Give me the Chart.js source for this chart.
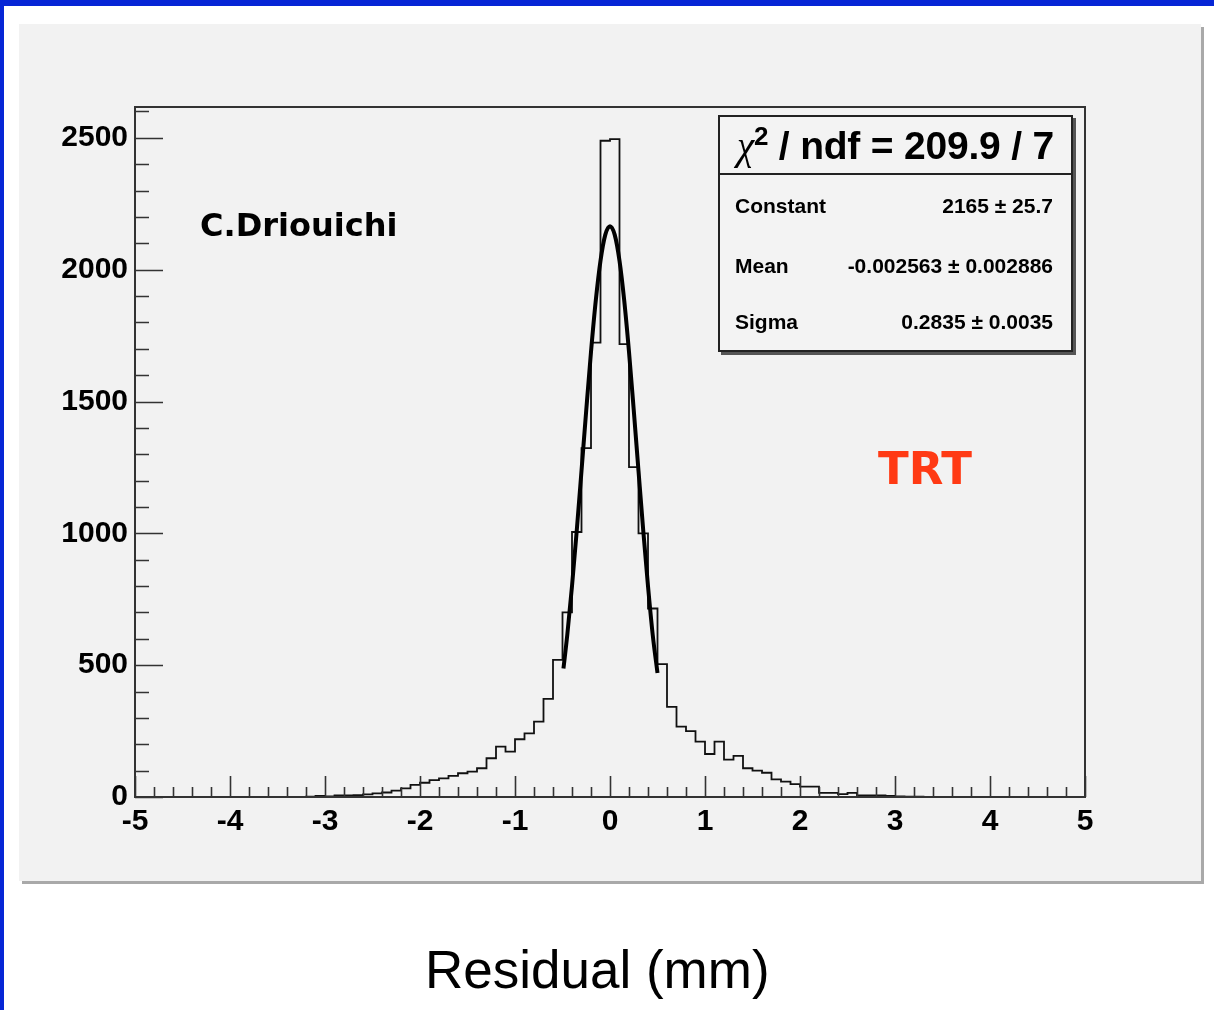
<!DOCTYPE html>
<html>
<head>
<meta charset="utf-8">
<script src="https://cdn.jsdelivr.net/npm/chart.js@4.4.1/dist/chart.umd.min.js"></script>
<style>
    html, body { margin: 0; padding: 0; background: #fff; }
    body { width: 1214px; height: 1010px; position: relative; overflow: hidden; font-family: "Liberation Sans", Arial, sans-serif; }
    .top-bar { position: absolute; left: 0; top: 0; width: 1214px; height: 6px; background: #0626d6; }
    .left-bar { position: absolute; left: 0; top: 0; width: 4px; height: 1010px; background: #0626d6; }
    .panel { position: absolute; left: 19px; top: 24px; width: 1182px; height: 857px; background: #f2f2f2; box-shadow: 3px 3px 0 #a9a9a9; }
    .chart-wrap { position: absolute; left: 0; top: 0; width: 1182px; height: 857px; }
    .author { position: absolute; left: 200px; top: 206px; line-height: 1; font: bold 32px "Comic Sans MS", "DejaVu Sans", sans-serif; color: #000; }
    .detector { position: absolute; left: 878px; top: 442px; line-height: 1; font: bold 45px "Comic Sans MS", "DejaVu Sans", sans-serif; color: #ff3a14; }
    .x-title { position: absolute; left: 425px; top: 943px; line-height: 1; font-size: 53px; color: #000; }
    .stats { position: absolute; left: 718px; top: 115px; width: 355px; height: 237px; box-sizing: border-box;
             border: 2px solid #222; background: #f3f3f3; box-shadow: 3px 3px 0 #555; }
    .stats .head { height: 56px; border-bottom: 2px solid #222; text-align: center; font-weight: bold; font-size: 39px; line-height: 58px; white-space: nowrap; letter-spacing: -0.2px; }
    .stats .head .chi { font-family: "Liberation Serif", "DejaVu Serif", serif; font-style: italic; font-weight: normal; }
    .stats .head sup { font-size: 26px; line-height: 0; }
    .stats .row { position: absolute; left: 15px; right: 18px; font-weight: bold; font-size: 21px; line-height: 1; }
    .stats .row .val { position: absolute; right: 0; top: 0; white-space: nowrap; }
</style>
</head>
<body>
<div class="top-bar"></div>
<div class="left-bar"></div>
<div class="panel">
    <div class="chart-wrap"><canvas id="residualChart"></canvas></div>
</div>
<div class="author">C.Driouichi</div>
<div class="detector">TRT</div>
<div class="stats">
    <div class="head"><span class="chi">χ</span><sup>2</sup> / ndf = 209.9 / 7</div>
    <div class="row" style="top: 78px;">Constant<span class="val">2165 ± 25.7</span></div>
    <div class="row" style="top: 138px;">Mean<span class="val">-0.002563 ± 0.002886</span></div>
    <div class="row" style="top: 194px;">Sigma<span class="val">0.2835 ± 0.0035</span></div>
</div>
<div class="x-title">Residual (mm)</div>

<script>
// Histogram binning: 100 bins from -5 to 5
const binLow = -5;
const binWidth = 0.1;

// Entries per bin (left to right)
const counts = [
    0, 0, 0, 0, 0, 0, 0, 0, 0, 0,
    0, 0, 0, 0, 0, 0, 0, 0, 1, 4,
    2, 6, 6, 7, 10, 14, 17, 24, 33, 46,
    54, 64, 71, 80, 90, 96, 109, 147, 191, 172,
    219, 241, 286, 372, 520, 700, 1005, 1323, 1723, 2489,
    2495, 1718, 1251, 1000, 715, 504, 342, 267, 250, 210,
    163, 210, 142, 156, 109, 100, 92, 67, 58, 49,
    39, 39, 16, 16, 11, 16, 6, 6, 6, 4,
    2, 1, 1, 0, 0, 0, 0, 0, 0, 0,
    0, 0, 0, 0, 0, 0, 0, 0, 0, 0
];

// Gaussian fit curve as drawn (x in mm, y in entries)
const fitX = [-0.49, -0.45, -0.40, -0.35, -0.30, -0.25, -0.20, -0.15, -0.10, -0.05, 0,
              0.05, 0.10, 0.15, 0.20, 0.25, 0.30, 0.35, 0.40, 0.45, 0.50];
const fitY = [487, 614, 800, 1010, 1237, 1467, 1688, 1882, 2034, 2132, 2165,
              2132, 2034, 1882, 1688, 1467, 1237, 1010, 800, 614, 470];

// Axis ranges and tick labels
const xTicks = [-5, -4, -3, -2, -1, 0, 1, 2, 3, 4, 5];
const yTicks = [0, 500, 1000, 1500, 2000, 2500];
const xMinorStep = 0.2;
const yMinorStep = 100;
const yMax = 2617;

// ROOT style frame with inward major/minor ticks
const rootFrame = {
    id: 'rootFrame',
    afterDatasetsDraw(chart) {
        const { ctx, chartArea: a, scales: { x, y } } = chart;
        ctx.save();
        ctx.strokeStyle = '#333';
        ctx.lineWidth = 2;
        ctx.strokeRect(a.left, a.top, a.right - a.left, a.bottom - a.top);

        ctx.lineWidth = 1.6;
        ctx.beginPath();
        const nx = Math.round((xTicks[xTicks.length - 1] - xTicks[0]) / xMinorStep);
        for (let i = 0; i <= nx; i++) {
            const v = xTicks[0] + i * xMinorStep;
            const px = Math.round(x.getPixelForValue(v)) + 0.5;
            const major = xTicks.some(t => Math.abs(t - v) < 1e-6);
            ctx.moveTo(px, a.bottom);
            ctx.lineTo(px, a.bottom - (major ? 21 : 10));
        }
        for (let v = 0; v <= yMax; v += yMinorStep) {
            const py = Math.round(y.getPixelForValue(v)) + 0.5;
            const major = yTicks.includes(v);
            ctx.moveTo(a.left, py);
            ctx.lineTo(a.left + (major ? 28 : 14), py);
        }
        ctx.stroke();
        ctx.restore();
    }
};

document.addEventListener('DOMContentLoaded', function() {
    const histPoints = counts.map((c, i) => ({ x: binLow + i * binWidth, y: c }));
    histPoints.push({ x: binLow + counts.length * binWidth, y: counts[counts.length - 1] });
    const fitPoints = fitX.map((v, i) => ({ x: v, y: fitY[i] }));

    const tickFont = { family: '"Liberation Sans", Arial, sans-serif', weight: 'bold', size: 30 };

    new Chart(document.getElementById('residualChart'), {
        type: 'line',
        data: {
            datasets: [
                {
                    label: 'Gaussian fit',
                    data: fitPoints,
                    borderColor: '#000',
                    borderWidth: 4,
                    pointRadius: 0,
                    cubicInterpolationMode: 'monotone',
                    order: 0
                },
                {
                    label: 'Residual',
                    data: histPoints,
                    borderColor: '#111',
                    borderWidth: 1.8,
                    pointRadius: 0,
                    stepped: 'before',
                    order: 1
                }
            ]
        },
        options: {
            responsive: true,
            maintainAspectRatio: false,
            animation: false,
            layout: { padding: { left: 0, top: 83, right: 116, bottom: 0 } },
            plugins: {
                legend: { display: false },
                tooltip: { enabled: false }
            },
            scales: {
                x: {
                    type: 'linear',
                    min: xTicks[0],
                    max: xTicks[xTicks.length - 1],
                    grid: { display: false, drawTicks: false },
                    border: { display: false },
                    afterFit: function(scale) { scale.height = 84; },
                    afterBuildTicks: function(scale) { scale.ticks = xTicks.map(v => ({ value: v })); },
                    ticks: {
                        color: '#000',
                        font: tickFont,
                        padding: 7,
                        maxRotation: 0,
                        autoSkip: false,
                        callback: v => String(v)
                    }
                },
                y: {
                    min: 0,
                    max: yMax,
                    grid: { display: false, drawTicks: false },
                    border: { display: false },
                    afterFit: function(scale) { scale.width = 116; },
                    afterBuildTicks: function(scale) { scale.ticks = yTicks.map(v => ({ value: v })); },
                    ticks: {
                        color: '#000',
                        font: tickFont,
                        padding: 7,
                        autoSkip: false,
                        callback: v => String(v)
                    }
                }
            }
        },
        plugins: [rootFrame]
    });
});
</script>
</body>
</html>
